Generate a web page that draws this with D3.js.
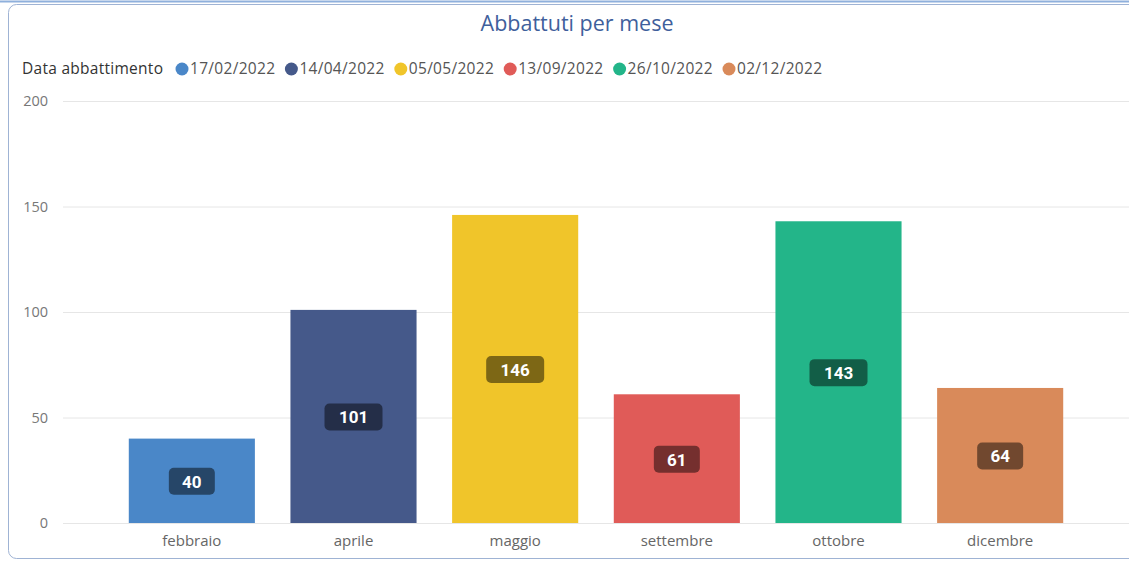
<!DOCTYPE html>
<html>
<head>
<meta charset="utf-8">
<script src="https://cdn.jsdelivr.net/npm/d3@7"></script>
<style>
  body { margin: 0; background: #fff; }
  svg { display: block; font-family: "Open Sans", "Noto Sans", sans-serif; }
</style>
</head>
<body>
<div id="wrapper"></div>
<script>
const months = ["febbraio", "aprile", "maggio", "settembre", "ottobre", "dicembre"]
const dates = ["17/02/2022", "14/04/2022", "05/05/2022", "13/09/2022", "26/10/2022", "02/12/2022"]
const values = [40, 101, 146, 61, 143, 64]
const colors = ["#4a87c8", "#45598a", "#f0c52a", "#e05b58", "#23b589", "#d98a5a"]
const yTicks = [0, 50, 100, 150, 200]

function drawBarChart() {
  const dms = {
    width: 1129,
    height: 564,
    margins: { top: 101, right: 0, bottom: 41, left: 63 }
  }
  dms.boundedWidth = dms.width - dms.margins.left - dms.margins.right
  dms.boundedHeight = dms.height - dms.margins.top - dms.margins.bottom

  const svg = d3.select("#wrapper")
    .append("svg")
    .attr("width", dms.width)
    .attr("height", dms.height)

  // panel frame
  svg.append("line")
    .attr("x1", 0).attr("x2", dms.width)
    .attr("y1", 1.5).attr("y2", 1.5)
    .attr("stroke", "#8fb0dc")
    .attr("stroke-width", 2)
  svg.append("rect")
    .attr("x", 8.5).attr("y", 4.5)
    .attr("width", 1140).attr("height", 554)
    .attr("rx", 8)
    .attr("fill", "none")
    .attr("stroke", "#9fb3d4")

  svg.append("text")
    .attr("x", 577)
    .attr("y", 31)
    .attr("text-anchor", "middle")
    .attr("font-size", 21.5)
    .attr("fill", "#3f5f9c")
    .text("Abbattuti per mese")

  // legend
  const legend = svg.append("g").attr("transform", "translate(22, 69)")
  legend.append("text")
    .attr("y", 5)
    .attr("font-size", 15.5)
    .attr("fill", "#333")
    .attr("textLength", 141)
    .text("Data abbattimento")
  const item = legend.selectAll(".item")
    .data(dates)
    .join("g")
    .attr("class", "item")
    .attr("transform", (d, i) => `translate(${160 + i * 109.4}, 0)`)
  item.append("circle")
    .attr("r", 6.5)
    .attr("fill", (d, i) => colors[i])
  item.append("text")
    .attr("x", 8)
    .attr("y", 5)
    .attr("font-size", 15.5)
    .attr("fill", "#555")
    .attr("textLength", 85)
    .text(d => d)

  const bounds = svg.append("g")
    .attr("transform", `translate(${dms.margins.left}, ${dms.margins.top})`)

  const yScale = d3.scaleLinear()
    .domain([0, 200])
    .range([dms.boundedHeight, 0])

  const xScale = d3.scaleBand()
    .domain(months)
    .range([111 - dms.margins.left, 1081 - dms.margins.left])
    .paddingInner(0.22)
    .paddingOuter(0.11)

  // gridlines
  bounds.append("g")
    .selectAll("line")
    .data(yTicks)
    .join("line")
    .attr("x1", 0).attr("x2", dms.boundedWidth)
    .attr("y1", d => yScale(d) + 0.5).attr("y2", d => yScale(d) + 0.5)
    .attr("stroke", "#e6e6e6")

  const yAxis = bounds.append("g")
    .call(d3.axisLeft(yScale).tickValues(yTicks).tickSize(0).tickPadding(15))
  yAxis.select(".domain").remove()
  yAxis.selectAll("text")
    .attr("font-size", 14.5)
    .attr("fill", "#777")
    .attr("font-family", "Open Sans, sans-serif")

  const bars = bounds.selectAll(".bar")
    .data(values)
    .join("g")
    .attr("class", "bar")

  bars.append("rect")
    .attr("x", (d, i) => xScale(months[i]))
    .attr("y", d => yScale(d))
    .attr("width", xScale.bandwidth())
    .attr("height", d => dms.boundedHeight - yScale(d))
    .attr("fill", (d, i) => colors[i])

  const lbl = bars.append("g")
    .attr("transform", (d, i) =>
      `translate(${xScale(months[i]) + xScale.bandwidth() / 2}, ${(yScale(d) + dms.boundedHeight) / 2})`)
  lbl.append("rect")
    .attr("x", d => String(d).length > 2 ? -29 : -23)
    .attr("y", -13)
    .attr("width", d => String(d).length > 2 ? 58 : 46)
    .attr("height", 27)
    .attr("rx", 5)
    .attr("fill", "#000")
    .attr("fill-opacity", 0.48)
  lbl.append("text")
    .attr("text-anchor", "middle")
    .attr("y", 7)
    .attr("font-size", 17)
    .attr("font-weight", "bold")
    .attr("font-family", "Roboto, sans-serif")
    .attr("fill", "#fff")
    .text(d => d)

  const xAxis = bounds.append("g")
    .attr("transform", `translate(0, ${dms.boundedHeight})`)
    .call(d3.axisBottom(xScale).tickSize(0).tickPadding(12))
  xAxis.select(".domain").remove()
  xAxis.selectAll("text")
    .attr("font-size", 15)
    .attr("fill", "#666")
    .attr("font-family", "Open Sans, sans-serif")
}

drawBarChart()
</script>
</body>
</html>
